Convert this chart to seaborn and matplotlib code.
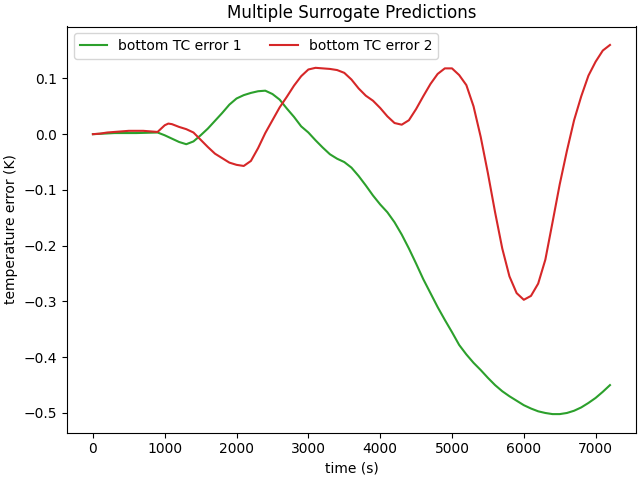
import matplotlib
matplotlib.use("Agg")
import pandas as pd
import seaborn as sns
import matplotlib.pyplot as plt

# values
time_1 = [0, 300, 600, 900, 1000, 1100, 1200, 1300, 1400, 1500, 1600, 1700,
          1800, 1900, 2000, 2100, 2200, 2300, 2400, 2500, 2600, 2700, 2800,
          2900, 3000, 3100, 3200, 3300, 3400, 3500, 3600, 3700, 3800, 3900,
          4000, 4100, 4200, 4300, 4400, 4500, 4600, 4700, 4800, 4900, 5000,
          5100, 5200, 5300, 5400, 5500, 5600, 5700, 5800, 5900, 6000, 6100,
          6200, 6300, 6400, 6500, 6600, 6700, 6800, 6900, 7000, 7100, 7200]
err_1 = [0.0, 0.002, 0.002, 0.003, -0.002, -0.008, -0.014, -0.018, -0.013,
         -0.002, 0.01, 0.024, 0.038, 0.053, 0.064, 0.07, 0.074, 0.077, 0.078,
         0.072, 0.062, 0.046, 0.031, 0.014, 0.003, -0.011, -0.024, -0.036,
         -0.044, -0.05, -0.06, -0.075, -0.092, -0.11, -0.126, -0.14, -0.158,
         -0.18, -0.205, -0.232, -0.26, -0.285, -0.31, -0.333, -0.355, -0.378,
         -0.395, -0.41, -0.423, -0.437, -0.45, -0.461, -0.47, -0.478, -0.486,
         -0.492, -0.497, -0.5, -0.502, -0.502, -0.5, -0.496, -0.49, -0.482,
         -0.473, -0.462, -0.45]

time_2 = [0, 100, 200, 300, 400, 500, 600, 700, 800, 900, 950, 1000, 1050,
          1100, 1200, 1300, 1400, 1500, 1600, 1700, 1800, 1900, 2000, 2100,
          2200, 2300, 2400, 2500, 2600, 2700, 2800, 2900, 3000, 3100, 3200,
          3300, 3400, 3500, 3600, 3700, 3800, 3900, 4000, 4100, 4200, 4300,
          4400, 4500, 4600, 4700, 4800, 4900, 5000, 5100, 5200, 5300, 5400,
          5500, 5600, 5700, 5800, 5900, 6000, 6100, 6200, 6300, 6400, 6500,
          6600, 6700, 6800, 6900, 7000, 7100, 7200]
err_2 = [0.0, 0.001, 0.003, 0.004, 0.005, 0.006, 0.006, 0.006, 0.005, 0.004,
         0.01, 0.016, 0.019, 0.018, 0.013, 0.009, 0.003, -0.01, -0.023,
         -0.035, -0.043, -0.051, -0.055, -0.057, -0.048, -0.025, 0.002, 0.025,
         0.048, 0.067, 0.087, 0.104, 0.116, 0.119, 0.118, 0.117, 0.115, 0.11,
         0.098, 0.082, 0.069, 0.06, 0.047, 0.032, 0.02, 0.017, 0.025, 0.045,
         0.068, 0.09, 0.108, 0.118, 0.118, 0.106, 0.088, 0.05, -0.005, -0.07,
         -0.14, -0.205, -0.255, -0.285, -0.297, -0.29, -0.268, -0.225, -0.158,
         -0.09, -0.03, 0.025, 0.068, 0.105, 0.13, 0.15, 0.16]

labels = ["bottom TC error 1", "bottom TC error 2"]

df = pd.concat([
    pd.DataFrame({"time": time_1, "err": err_1, "series": labels[0]}),
    pd.DataFrame({"time": time_2, "err": err_2, "series": labels[1]}),
])

fig, ax = plt.subplots(figsize=(6.4, 4.8), dpi=100)
sns.lineplot(data=df, x="time", y="err", hue="series", hue_order=labels,
             palette=["tab:green", "tab:red"], ax=ax, linewidth=1.5)
ax.legend(loc="upper left", ncol=2)
ax.set_xlabel("time (s)")
ax.set_ylabel("temperature error (K)")
ax.set_title("Multiple Surrogate Predictions")
fig.tight_layout(pad=0.3)
fig.savefig("out.png")
